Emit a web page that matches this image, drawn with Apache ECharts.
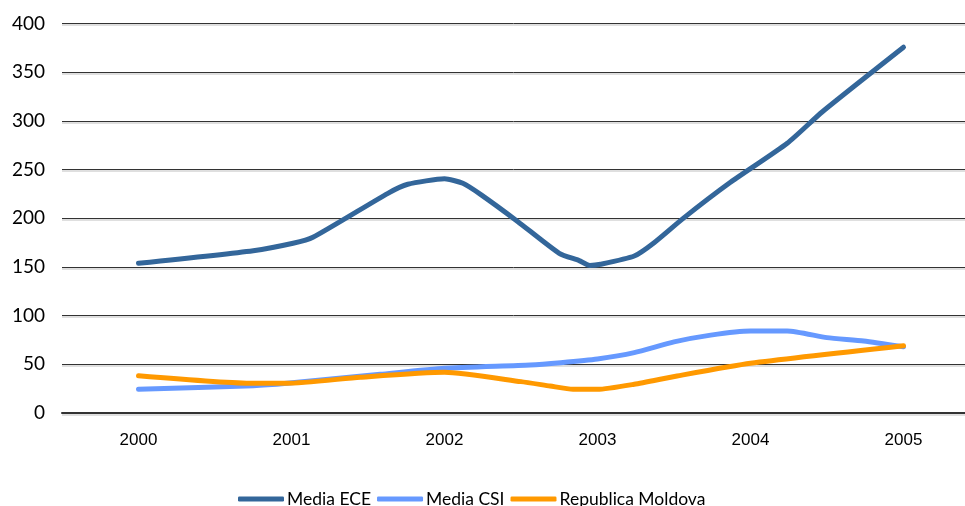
<!DOCTYPE html>
<html>
<head>
<meta charset="utf-8">
<script src="https://cdn.jsdelivr.net/npm/echarts@6/dist/echarts.min.js"></script>
<style>
html,body{margin:0;padding:0;background:#fff;}
#chart{width:965px;height:506px;}
</style>
</head>
<body>
<div id="chart"></div>
<script>
// Tick labels
const yearLabels = [2000, 2001, 2002, 2003, 2004, 2005];
const seriesNames = ['Media ECE', 'Media CSI', 'Republica Moldova'];

// Media ECE (time as fractional year, value)
const eceX = [2000.0, 2000.75, 2001.01, 2001.14, 2001.63, 2001.76, 2002.0, 2002.12, 2002.24, 2002.48, 2002.75, 2002.88, 2002.95, 2003.02, 2003.24, 2003.37, 2003.56, 2003.86, 2004.24, 2004.47, 2005.0];
const eceY = [153.7, 166.7, 174.3, 180.4, 225.6, 234.9, 240.5, 235.9, 224.0, 196.5, 164.0, 156.5, 151.5, 152.7, 161.2, 174.9, 199.9, 235.9, 277.0, 309.4, 375.6];

// Media CSI
const csiX = [2000.0, 2000.75, 2000.97, 2001.58, 2002.0, 2002.56, 2002.76, 2003.0, 2003.24, 2003.5, 2003.74, 2004.0, 2004.24, 2004.5, 2004.74, 2005.0];
const csiY = [24.3, 28.0, 30.5, 39.7, 45.9, 49.3, 51.7, 55.5, 62.0, 73.0, 80.0, 84.2, 84.2, 77.4, 74.0, 68.0];

// Republica Moldova
const mdaX = [2000.0, 2000.75, 2000.97, 2001.45, 2002.0, 2002.5, 2002.69, 2002.84, 2003.0, 2003.24, 2003.52, 2004.0, 2005.0];
const mdaY = [38.3, 30.5, 30.5, 36.7, 41.8, 32.2, 27.7, 24.3, 24.3, 29.5, 38.0, 51.0, 69.0];

const colors = ['#33669a', '#6699ff', '#ff9900'];

function pairs(xs, ys) { return xs.map((x, i) => [x, ys[i]]); }

const chart = echarts.init(document.getElementById('chart'), null, {renderer: 'canvas'});
const font = 'Lato, "Open Sans", sans-serif';
const narrow = '"Liberation Sans Narrow", "Liberation Sans", sans-serif';

chart.setOption({
  animation: false,
  backgroundColor: '#ffffff',
  color: colors,
  grid: {left: 62, right: 0, top: 23.5, bottom: 93, containLabel: false},
  legend: {
    top: 485,
    left: 233,
    itemWidth: 46,
    itemHeight: 5,
    itemGap: 6,
    icon: 'roundRect',
    textStyle: {fontFamily: font, fontSize: 17.5, color: '#000', padding: [6, 0, 0, -2]},
    data: seriesNames
  },
  xAxis: {
    type: 'value',
    min: 1999.5,
    max: 1999.5 + (965 - 62) / 153,
    interval: 0.5,
    axisLine: {show: true, lineStyle: {color: '#333', width: 2}},
    axisTick: {show: false},
    splitLine: {show: false},
    axisLabel: {
      margin: 19,
      fontFamily: narrow,
      fontSize: 17,
      color: '#000',
      showMaxLabel: false,
      showMinLabel: false,
      formatter: function (v) {
        const r = Math.round(v);
        return (Math.abs(v - r) < 1e-6 && yearLabels.indexOf(r) >= 0) ? String(r) : '';
      }
    }
  },
  yAxis: {
    type: 'value',
    min: 0,
    max: 400,
    interval: 50,
    axisLine: {show: false},
    axisTick: {show: false},
    axisLabel: {margin: 17, fontFamily: font, fontSize: 19, color: '#000'},
    splitLine: {lineStyle: {color: '#333', width: 1, shadowColor: 'rgba(0,0,0,0.25)', shadowOffsetY: 1.5}}
  },
  series: [
    {name: seriesNames[0], type: 'line', data: pairs(eceX, eceY), showSymbol: false, symbol: 'none', smooth: 0.2,
     lineStyle: {width: 5, color: colors[0], cap: 'round', join: 'round'}},
    {name: seriesNames[1], type: 'line', data: pairs(csiX, csiY), showSymbol: false, symbol: 'none', smooth: 0.2,
     lineStyle: {width: 5, color: colors[1], cap: 'round', join: 'round'}},
    {name: seriesNames[2], type: 'line', data: pairs(mdaX, mdaY), showSymbol: false, symbol: 'none', smooth: 0.2,
     lineStyle: {width: 5, color: colors[2], cap: 'round', join: 'round'}}
  ]
});
</script>
</body>
</html>
